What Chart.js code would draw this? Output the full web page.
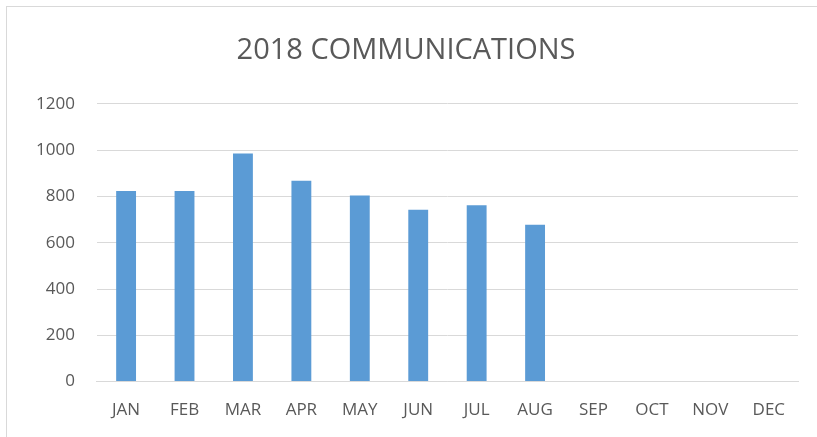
<!DOCTYPE html>
<html>
<head>
<meta charset="utf-8">
<script src="https://cdn.jsdelivr.net/npm/chart.js@4/dist/chart.umd.min.js"></script>
<style>
  html, body { margin: 0; padding: 0; background: #fff; }
  #frame {
    position: absolute; left: 6px; top: 6px; width: 830px; height: 440px;
    border: 1px solid #d9d9d9; box-sizing: border-box;
  }
  #wrap { position: absolute; left: 0; top: 0; width: 817px; height: 437px; }
</style>
</head>
<body>
<div id="frame"></div>
<div id="wrap"><canvas id="chart"></canvas></div>
<script>
// months on the x axis
const months = ["JAN", "FEB", "MAR", "APR", "MAY", "JUN", "JUL", "AUG", "SEP", "OCT", "NOV", "DEC"];
// communications per month (only Jan-Aug reported)
const communications = [823, 823, 985, 868, 804, 742, 762, 677, null, null, null, null];
const yTicks = [0, 200, 400, 600, 800, 1000, 1200];

const fontFam = "'Open Sans', 'Liberation Sans', sans-serif";

const config = {
  type: "bar",
  data: {
    labels: months,
    datasets: [{
      label: "Communications",
      data: communications,
      backgroundColor: "#5b9bd5",
      borderWidth: 0,
      barPercentage: 0.68,
      categoryPercentage: 0.5,
    }],
  },
  options: {
    responsive: true,
    maintainAspectRatio: false,
    animation: false,
    layout: { padding: { top: 33, left: 14, right: 19, bottom: 7 } },
    plugins: {
      legend: { display: false },
      tooltip: { enabled: false },
      title: {
        display: true,
        text: "2018 COMMUNICATIONS",
        color: "#595959",
        font: { family: fontFam, size: 29, weight: "normal" },
        padding: { top: 0, bottom: 36 },
      },
    },
    scales: {
      x: {
        grid: { display: false },
        border: { color: "#d9d9d9", width: 1 },
        ticks: {
          color: "#595959",
          font: { family: fontFam, size: 17 },
          padding: 10,
          maxRotation: 0,
        },
      },
      y: {
        min: 0,
        max: 1200,
        afterBuildTicks: (axis) => { axis.ticks = yTicks.map(v => ({ value: v })); },
        grid: { color: "#d9d9d9", lineWidth: 1, drawTicks: false },
        border: { display: false },
        ticks: {
          color: "#595959",
          font: { family: fontFam, size: 17 },
          padding: 22,
          callback: (v) => String(v),
        },
      },
    },
  },
};

const ctx = document.getElementById("chart").getContext("2d");
let myChart = new Chart(ctx, config);
</script>
</body>
</html>
